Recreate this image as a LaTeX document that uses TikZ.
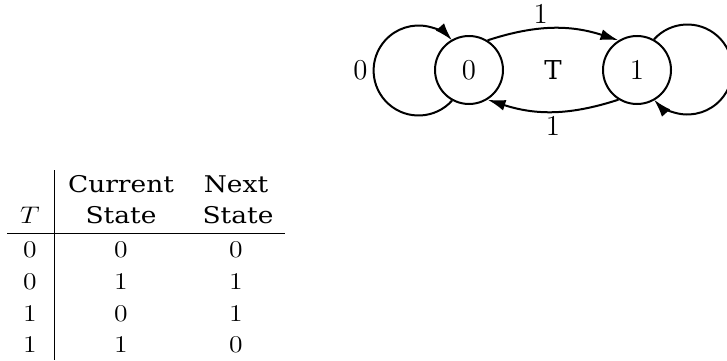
\documentclass[tikz,border=0pt]{standalone}
\usepackage{fontspec}
\setmainfont{DejaVu Serif}
\usetikzlibrary{positioning, arrows.meta}
\tikzset{
  state/.style={draw, circle, line width=1pt, minimum size=34pt, inner sep=0pt, font=\fontsize{14}{17}\selectfont},
  trans/.style={line width=1pt, -{Latex[length=9pt, width=5.5pt]}},
  lbl/.style={inner sep=2pt, font=\fontsize{14}{17}\selectfont},
  cell/.style={anchor=base, inner sep=0pt, xscale=1.15, font=\fontsize{11.5}{14}\selectfont},
  rule/.style={line width=0.4pt}
}

\begin{document}
\begin{tikzpicture}[x=0.5pt, y=0.5pt]
  \useasboundingbox (0,0) rectangle (727,360);
  \node[state] (s0) at (469,290) {$0$};
  \node[state] (s1) at (637,290) {$1$};
  \node[font=\fontsize{13}{16}\selectfont] (tname) at (553,290) {T};
  \draw[trans] (s0.58) to[out=18, in=162] node[lbl, pos=0.4, above] (e01) {$1$} (s1.122);
  \draw[trans] (s1.238) to[out=198, in=-18] node[lbl, midway, below] (e10) {$1$} (s0.302);
  \draw[trans] (s0.241) arc[start angle=-42, end angle=-318, radius=22.5pt]
    node[lbl, pos=0.5, left, inner sep=2.5pt] (e00) {$0$};
  \draw[trans] (s1.61) arc[start angle=138, end angle=-138, radius=22.5pt]
    node[lbl, pos=0.5, right, inner sep=2.5pt] (e11) {$0$};

  \node[cell] (hcur) at (121,168) {Current};
  \node[cell] (hnxt) at (236,168) {Next};
  \node[cell] (ht) at (30,137) {$T$};
  \node[cell] (hcur2) at (121,137) {State};
  \node[cell] (hnxt2) at (238,137) {State};
  \draw[rule] (7,127) -- (285,127);
  \draw[rule] (54,190) -- (54,0);
  \foreach \tin/\cur/\nxt/\y [count=\i] in {0/0/0/103, 0/1/1/71, 1/0/1/39, 1/1/0/8} {
    \node[cell] (t\i) at (30,\y) {$\tin$};
    \node[cell] (c\i) at (121,\y) {$\cur$};
    \node[cell] (n\i) at (236,\y) {$\nxt$};
  }
\end{tikzpicture}
\end{document}
